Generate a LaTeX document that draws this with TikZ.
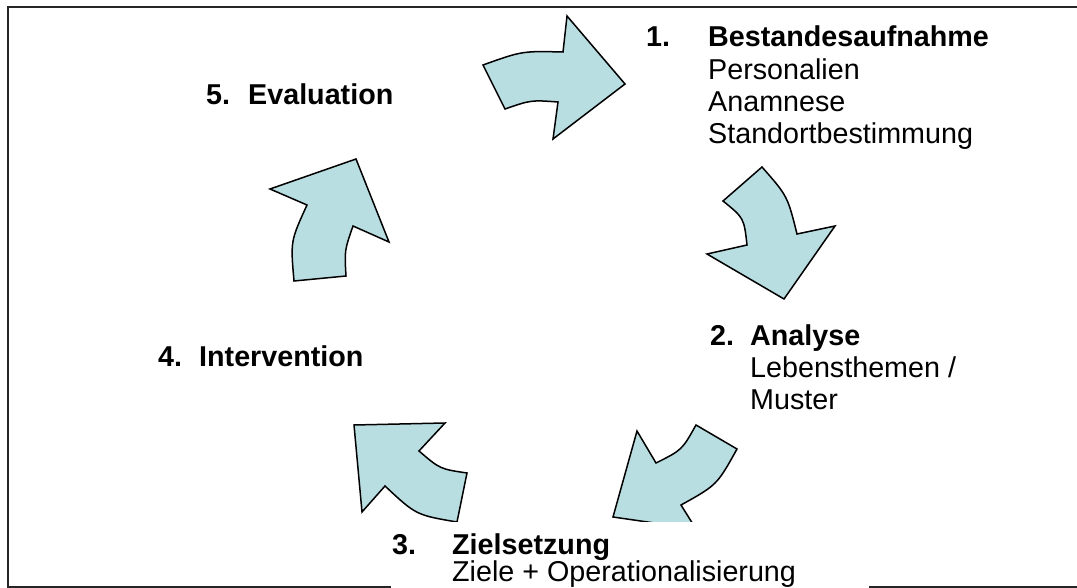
\documentclass[tikz,border=0pt]{standalone}
\usepackage{fontspec}
\setmainfont{Liberation Sans}
\definecolor{arrowfill}{RGB}{184,222,226}
\begin{document}
\begin{tikzpicture}[x=1pt,y=-1pt,
  cyclearrow/.style={draw=black, line width=1.5pt, fill=arrowfill, line join=miter},
  lbl/.style={anchor=base west, inner sep=0pt, font=\fontsize{28.7}{32}\selectfont},
  headlbl/.style={lbl, font=\fontsize{28.7}{32}\selectfont\bfseries},
  frame/.style={draw=black!85, line width=2pt}]
\useasboundingbox (0,0) rectangle (1077,588);

% outer frame (open on the right)
\draw[frame] (1077,7) -- (8,7) -- (8,587) -- (1077,587);

% five curved block arrows forming the cycle
\draw[cyclearrow] (483,65) .. controls (522,51) .. (563,52) -- (567,16) -- (625,84)
  -- (553,139) -- (558,102) .. controls (531,100) .. (505,109) -- cycle;
\draw[cyclearrow] (762,167) -- (723,201) .. controls (744,218) .. (747,245) -- (707,254)
  -- (784,299) -- (835,226) -- (797,234) .. controls (787.5,196) .. (762,167) -- cycle;
\draw[cyclearrow] (637,431) -- (656,463) .. controls (682,450) .. (696,425) -- (737,449)
  .. controls (717,485) .. (681,505) -- (696,529) -- (613,517) -- cycle;
\draw[cyclearrow] (354,425) -- (445,423) -- (419,451) .. controls (440,469) .. (467,473)
  -- (457,522) .. controls (416,515) .. (385,486) -- (362,512) -- cycle;
\draw[cyclearrow] (294,281) .. controls (290.5,241) .. (307,205) -- (270,189) -- (356,159)
  -- (389,242) -- (353,226) .. controls (344.5,250.5) .. (346,276) -- cycle;

% white background of the step-3 text box
\fill[white] (391,522) rectangle (869,590);

% step 1
\node[headlbl] (n1) at (646,47) {1.};
\node[headlbl] (t1) at (708,47) {Bestandesaufnahme};
\node[lbl] (t1a) at (708,80) {Personalien};
\node[lbl] (t1b) at (708,112) {Anamnese};
\node[lbl] (t1c) at (708,144) {Standortbestimmung};

% step 2
\node[headlbl] (n2) at (710,345) {2.};
\node[headlbl] (t2) at (750,345) {Analyse};
\node[lbl] (t2a) at (750,377) {Lebensthemen /};
\node[lbl] (t2b) at (750,409) {Muster};

% step 3
\node[headlbl] (n3) at (392,554) {3.};
\node[headlbl] (t3) at (452,554) {Zielsetzung};
\node[lbl] (t3a) at (452,581) {Ziele + Operationalisierung};

% step 4
\node[headlbl] (n4) at (158,366) {4.};
\node[headlbl] (t4) at (199,366) {Intervention};

% step 5
\node[headlbl] (n5) at (206,105) {5.};
\node[headlbl] (t5) at (248,105) {Evaluation};
\end{tikzpicture}
\end{document}
